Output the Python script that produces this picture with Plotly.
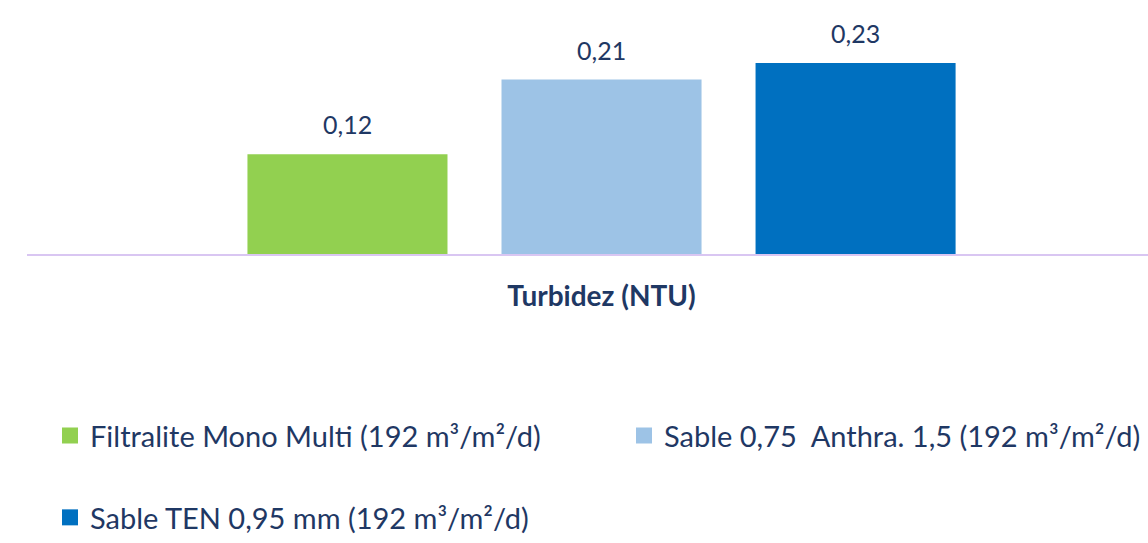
import plotly.graph_objects as go

categories = ["Turbidez (NTU)"]
series_names = [
    "Filtralite Mono Multi (192 m³/m²/d)",
    "Sable 0,75  Anthra. 1,5 (192 m³/m²/d)",
    "Sable TEN 0,95 mm (192 m³/m²/d)",
]
series_values = [[0.12], [0.21], [0.23]]
colors = ["#92D050", "#9DC3E6", "#0070C0"]

TXT = "#1F3864"
FONT = "Lato"

W, H = 1148, 543
ml, mr, mt, mb = 27, 0, 0, 283
pw = W - ml - mr
ph = H - mt - mb

legend_pos = [(50, 446), (624, 446), (50, 530)]
legend_names = ["legend", "legend2", "legend3"]

fig = go.Figure()
for name, vals, col, lg in zip(series_names, series_values, colors, legend_names):
    fig.add_trace(go.Bar(
        x=categories, y=vals, name=name, marker_color=col,
        marker_line_width=0, showlegend=False, cliponaxis=False,
    ))
    # legend entry with a larger square swatch
    fig.add_trace(go.Scatter(
        x=[None], y=[None], mode="markers", name=name, legend=lg,
        marker=dict(symbol="square", size=16, color=col),
    ))

# value labels
pitch_px = 254
for i, vals in enumerate(series_values):
    for c, v in zip(categories, vals):
        fig.add_annotation(
            x=c, y=v, text=f"{v:.2f}".replace(".", ","), showarrow=False,
            xshift=(i - 1) * pitch_px, yshift=13, yanchor="bottom",
            font=dict(family=FONT, size=25, color=TXT),
        )

layout_legends = {}
for lg, (px, py) in zip(legend_names, legend_pos):
    layout_legends[lg] = dict(
        x=(px - ml) / pw, y=(H - mb - py) / ph,
        xanchor="left", yanchor="middle", orientation="h",
        font=dict(family=FONT, size=29, color=TXT),
        bgcolor="rgba(0,0,0,0)", itemwidth=30,
    )

fig.update_layout(
    width=W, height=H,
    margin=dict(l=ml, r=mr, t=mt, b=mb),
    plot_bgcolor="white", paper_bgcolor="white",
    barmode="group", bargap=0.3367, bargroupgap=0.2126,
    showlegend=True,
    **layout_legends,
)
fig.update_xaxes(
    type="category", range=[-0.5, 0.4756],
    showline=True, linecolor="#D9C6F2", linewidth=2,
    showgrid=False, ticks="", ticklabelstandoff=16,
    tickfont=dict(family=FONT, size=28, color=TXT, weight="bold"),
)
fig.update_yaxes(
    range=[0, ph / 850.0], visible=False, showgrid=False, zeroline=False,
)

fig.write_html(
    "out.html",
    config={"displayModeBar": False},
    post_script="document.body.style.margin='0';document.body.style.overflow='hidden';",
)
